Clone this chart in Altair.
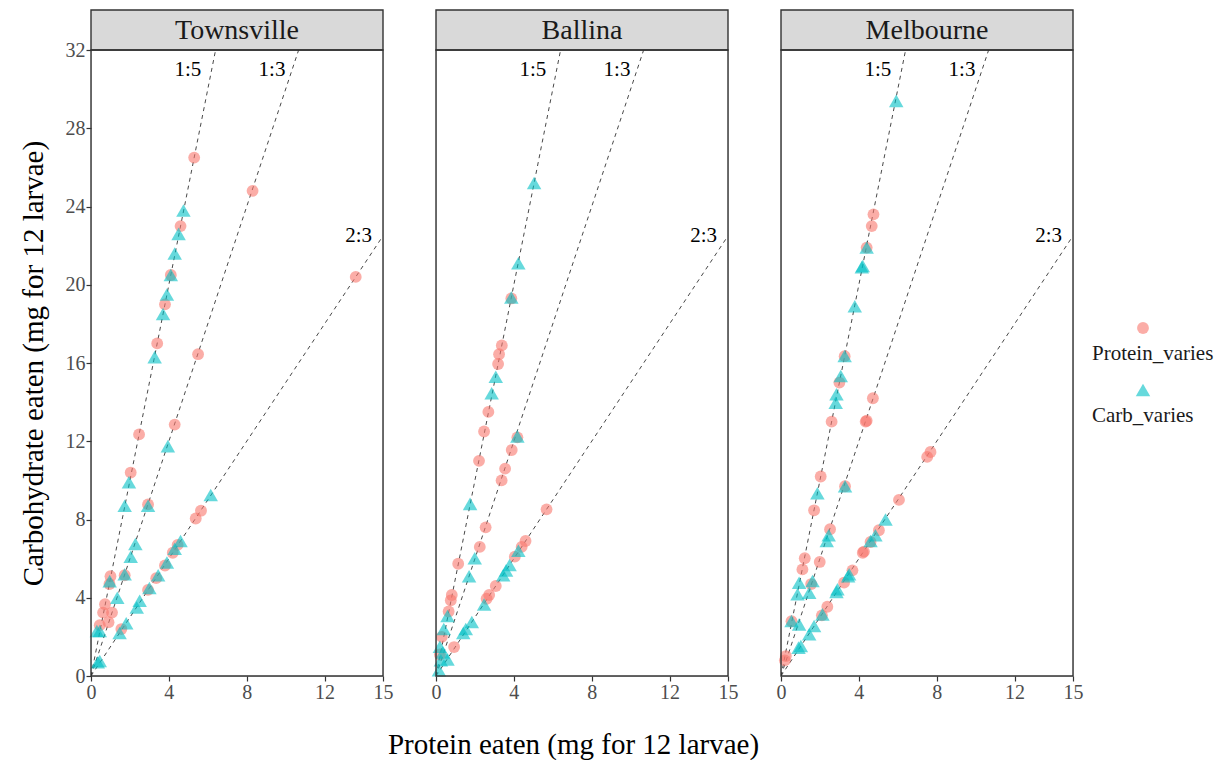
import altair as alt
import pandas as pd

FONT = "Liberation Serif"

SITES = ["Townsville", "Ballina", "Melbourne"]
SERIES = ["Protein_varies", "Carb_varies"]
SERIES_COLORS = ["#F8766D", "#00BFC4"]
SERIES_SHAPES = ["circle", "triangle-up"]

X_TICKS = [0, 4, 8, 12, 15]
Y_TICKS = [0, 4, 8, 12, 16, 20, 24, 28, 32]

# ---- Townsville ----
tv_protein_x = [5.3, 8.3, 13.6, 4.6, 4.1, 3.8, 3.4, 5.5, 2.47, 4.3, 2.04, 2.93, 5.65, 5.38,
                1.73, 4.45, 4.2, 3.8, 3.35, 2.93, 1.56, 1.0, 0.72, 0.62, 1.08, 0.9, 0.45, 0.95]
tv_protein_y = [26.5, 24.8, 20.4, 23.0, 20.5, 19.0, 17.0, 16.45, 12.35, 12.85, 10.4, 8.77, 8.45, 8.05,
                5.15, 6.7, 6.3, 5.65, 5.0, 4.4, 2.4, 5.1, 3.67, 3.24, 3.24, 2.75, 2.6, 4.7]
tv_carb_x = [4.75, 4.5, 4.3, 4.1, 3.9, 3.7, 3.27, 3.95, 1.95, 1.73, 2.93, 6.15, 2.28, 2.04, 1.73,
             4.6, 4.3, 3.9, 3.45, 3.0, 2.5, 2.35, 1.81, 1.47, 0.96, 1.35, 0.45, 0.3, 0.45, 0.35]
tv_carb_y = [23.8, 22.6, 21.6, 20.5, 19.5, 18.5, 16.3, 11.75, 9.9, 8.7, 8.7, 9.25, 6.75, 6.1, 5.2,
             6.9, 6.5, 5.8, 5.15, 4.5, 3.85, 3.5, 2.7, 2.2, 4.85, 4.0, 2.3, 2.3, 0.77, 0.7]

# ---- Ballina ----
ba_protein_x = [3.87, 3.38, 3.24, 3.19, 2.69, 2.47, 2.21, 1.14, 0.81, 0.76, 0.65, 0.3, 4.18, 3.89,
                3.55, 3.37, 2.55, 2.25, 5.68, 4.6, 4.4, 4.05, 3.07, 2.73, 2.6, 0.93, 0.2]
ba_protein_y = [19.3, 16.9, 16.45, 15.95, 13.5, 12.5, 11.0, 5.74, 4.14, 3.87, 3.3, 2.0, 12.2, 11.55,
                10.6, 10.0, 7.6, 6.6, 8.52, 6.9, 6.6, 6.1, 4.6, 4.14, 3.95, 1.48, 1.1]
ba_carb_x = [5.04, 4.23, 3.87, 3.07, 2.86, 1.75, 0.59, 0.4, 0.2, 0.25, 4.18, 1.99, 1.7, 0.35,
             4.23, 3.78, 3.6, 3.45, 2.47, 1.84, 1.53, 1.4, 0.59, 0.15]
ba_carb_y = [25.2, 21.1, 19.35, 15.3, 14.45, 8.8, 3.07, 2.4, 1.5, 0.8, 12.25, 6.02, 5.1, 1.2,
             6.4, 5.67, 5.4, 5.15, 3.66, 2.76, 2.4, 2.2, 0.85, 0.3]

# ---- Melbourne ----
me_protein_x = [4.75, 4.66, 4.4, 3.27, 3.0, 2.6, 2.04, 1.7, 1.22, 1.1, 0.54, 0.25, 0.2, 4.72, 4.4,
                4.35, 3.29, 2.52, 1.99, 1.55, 7.68, 7.51, 6.06, 5.03, 4.6, 4.26, 4.2, 3.67, 3.24,
                2.38, 2.1]
me_protein_y = [23.6, 23.0, 21.9, 16.35, 15.0, 13.0, 10.2, 8.47, 6.02, 5.45, 2.8, 1.02, 0.8, 14.2,
                13.05, 13.0, 9.7, 7.5, 5.83, 4.7, 11.45, 11.2, 9.0, 7.45, 6.85, 6.36, 6.3, 5.4, 4.77,
                3.54, 3.1]
me_carb_x = [5.92, 4.4, 4.2, 4.15, 3.79, 3.27, 3.07, 2.85, 2.81, 1.87, 0.93, 0.85, 0.54, 0.93, 3.29,
             2.45, 2.35, 1.62, 1.45, 5.37, 4.85, 4.6, 3.5, 3.45, 2.9, 2.85, 2.13, 1.7, 1.45, 1.02, 0.9]
me_carb_y = [29.4, 21.9, 20.96, 20.9, 18.9, 16.36, 15.34, 14.4, 13.97, 9.34, 4.77, 4.18, 2.81, 2.64,
             9.7, 7.2, 6.9, 4.86, 4.26, 8.0, 7.2, 6.9, 5.2, 5.1, 4.43, 4.3, 3.15, 2.56, 2.13, 1.53, 1.45]

# ---- reference P:C ratio lines ----
RATIO_NAMES = ["1:5", "1:3", "2:3"]
RATIO_SLOPES = [5, 3, 1.5]
RATIO_LABEL_X = [4.98, 9.3, 13.75]
RATIO_LABEL_Y = [31.0, 31.0, 22.5]

X_MAX, Y_MAX = 15, 32

rows = []
for site, series, xs, ys in [
    ("Townsville", "Protein_varies", tv_protein_x, tv_protein_y),
    ("Townsville", "Carb_varies", tv_carb_x, tv_carb_y),
    ("Ballina", "Protein_varies", ba_protein_x, ba_protein_y),
    ("Ballina", "Carb_varies", ba_carb_x, ba_carb_y),
    ("Melbourne", "Protein_varies", me_protein_x, me_protein_y),
    ("Melbourne", "Carb_varies", me_carb_x, me_carb_y),
]:
    for x, y in zip(xs, ys):
        rows.append({"site": site, "series": series, "x": x, "y": y})
points_df = pd.DataFrame(rows)

line_rows = []
for name, s in zip(RATIO_NAMES, RATIO_SLOPES):
    x_end = min(X_MAX, Y_MAX / s)
    line_rows.append({"ratio": name, "x": 0.0, "y": 0.0})
    line_rows.append({"ratio": name, "x": x_end, "y": x_end * s})
lines_df = pd.DataFrame(line_rows)
labels_df = pd.DataFrame({"ratio": RATIO_NAMES, "x": RATIO_LABEL_X, "y": RATIO_LABEL_Y})

W, H, STRIP_H, GAP = 292, 626, 40, 53
FRAME = "#333333"

color_scale = alt.Scale(domain=SERIES, range=SERIES_COLORS)
shape_scale = alt.Scale(domain=SERIES, range=SERIES_SHAPES)
size_scale = alt.Scale(domain=SERIES, range=[140, 210])


def plot_panel(i, site):
    xaxis = dict(values=X_TICKS, tickSize=5, tickColor=FRAME, tickWidth=1.2,
                 labelColor="#4d4d4d", labelFontSize=20, labelFont=FONT, labelPadding=1,
                 domain=False, grid=False, labelFlush=False)
    if i == 1:
        xaxis.update(title="Protein eaten (mg for 12 larvae)", titleFont=FONT, titleFontSize=29,
                     titleFontWeight="normal", titleColor="#000000",
                     titleX=W / 2 - 9, titleY=77, titleBaseline="alphabetic")
    else:
        xaxis.update(title=None)
    x_enc = alt.X("x:Q", scale=alt.Scale(domain=[0, X_MAX], nice=False), axis=alt.Axis(**xaxis))
    if i == 0:
        y_enc = alt.Y("y:Q", scale=alt.Scale(domain=[0, Y_MAX], nice=False),
                      axis=alt.Axis(values=Y_TICKS, tickSize=5, tickColor=FRAME, tickWidth=1.2,
                                    labelColor="#4d4d4d", labelFontSize=20, labelFont=FONT,
                                    labelPadding=1, domain=False, grid=False, labelFlush=False,
                                    title="Carbohydrate eaten (mg for 12 larvae)", titleFont=FONT,
                                    titleFontSize=29, titleFontWeight="normal",
                                    titleColor="#000000", titlePadding=17))
    else:
        y_enc = alt.Y("y:Q", scale=alt.Scale(domain=[0, Y_MAX], nice=False), axis=None)

    site_df = pd.DataFrame({"site": [site]})

    # facet strip drawn just above the plot area
    strip_box = alt.Chart(site_df).mark_rect(
        fill="#d9d9d9", stroke=FRAME, strokeWidth=1.4, clip=False
    ).encode(x=alt.value(0), x2=alt.value(W), y=alt.value(-STRIP_H), y2=alt.value(0))
    strip_text = alt.Chart(site_df).mark_text(
        font=FONT, fontSize=28, color="#1a1a1a", baseline="middle", align="center", clip=False
    ).encode(text="site:N", x=alt.value(W / 2), y=alt.value(-STRIP_H / 2 + 1))
    # panel border
    frame = alt.Chart(site_df).mark_rect(
        fillOpacity=0, stroke=FRAME, strokeWidth=1.4, clip=False
    ).encode(x=alt.value(0), x2=alt.value(W), y=alt.value(0), y2=alt.value(H))

    lines = alt.Chart(lines_df).mark_line(
        clip=True, strokeDash=[4, 4], color=FRAME, strokeWidth=0.9
    ).encode(x=x_enc, y=y_enc, detail="ratio:N")

    pts = alt.Chart(points_df[points_df.site == site]).mark_point(
        filled=True, opacity=0.6, strokeWidth=0
    ).encode(
        x=x_enc, y=y_enc,
        color=alt.Color("series:N", scale=color_scale, legend=None),
        shape=alt.Shape("series:N", scale=shape_scale, legend=None),
        size=alt.Size("series:N", scale=size_scale, legend=None),
    )

    labels = alt.Chart(labels_df).mark_text(
        font=FONT, fontSize=21, color="#000000", baseline="middle", align="center"
    ).encode(x=x_enc, y=y_enc, text="ratio:N")

    return alt.layer(lines, pts, labels, strip_box, strip_text, frame).properties(width=W, height=H)


# legend (sits in the same row as the plots, shifted left to the reference position)
LEG_SHIFT = 19 - GAP
leg_df = pd.DataFrame({"series": SERIES})
leg_y = alt.Y("series:N", scale=alt.Scale(type="point", domain=SERIES, range=[278, 340], padding=0),
              axis=None)
leg_syms = alt.Chart(leg_df).mark_point(filled=True, opacity=0.6, strokeWidth=0).encode(
    x=alt.value(51 + LEG_SHIFT), y=leg_y,
    color=alt.Color("series:N", scale=color_scale, legend=None),
    shape=alt.Shape("series:N", scale=shape_scale, legend=None),
    size=alt.Size("series:N", scale=size_scale, legend=None),
)
leg_text = alt.Chart(leg_df).mark_text(
    font=FONT, fontSize=21, color="#1a1a1a", align="left", baseline="middle", dy=26
).encode(x=alt.value(LEG_SHIFT), y=leg_y, text="series:N")
legend = alt.layer(leg_syms, leg_text).properties(
    width=90, height=H, view=alt.ViewBackground(stroke="transparent")
)

chart = alt.hconcat(*[plot_panel(i, s) for i, s in enumerate(SITES)], legend,
                    spacing=GAP, bounds="flush").properties(
    padding={"left": 18, "top": 8, "right": 0, "bottom": 0}
).configure_view(stroke="transparent").configure(font=FONT)

chart.save("out.html", embed_options={"renderer": "svg", "actions": False})
